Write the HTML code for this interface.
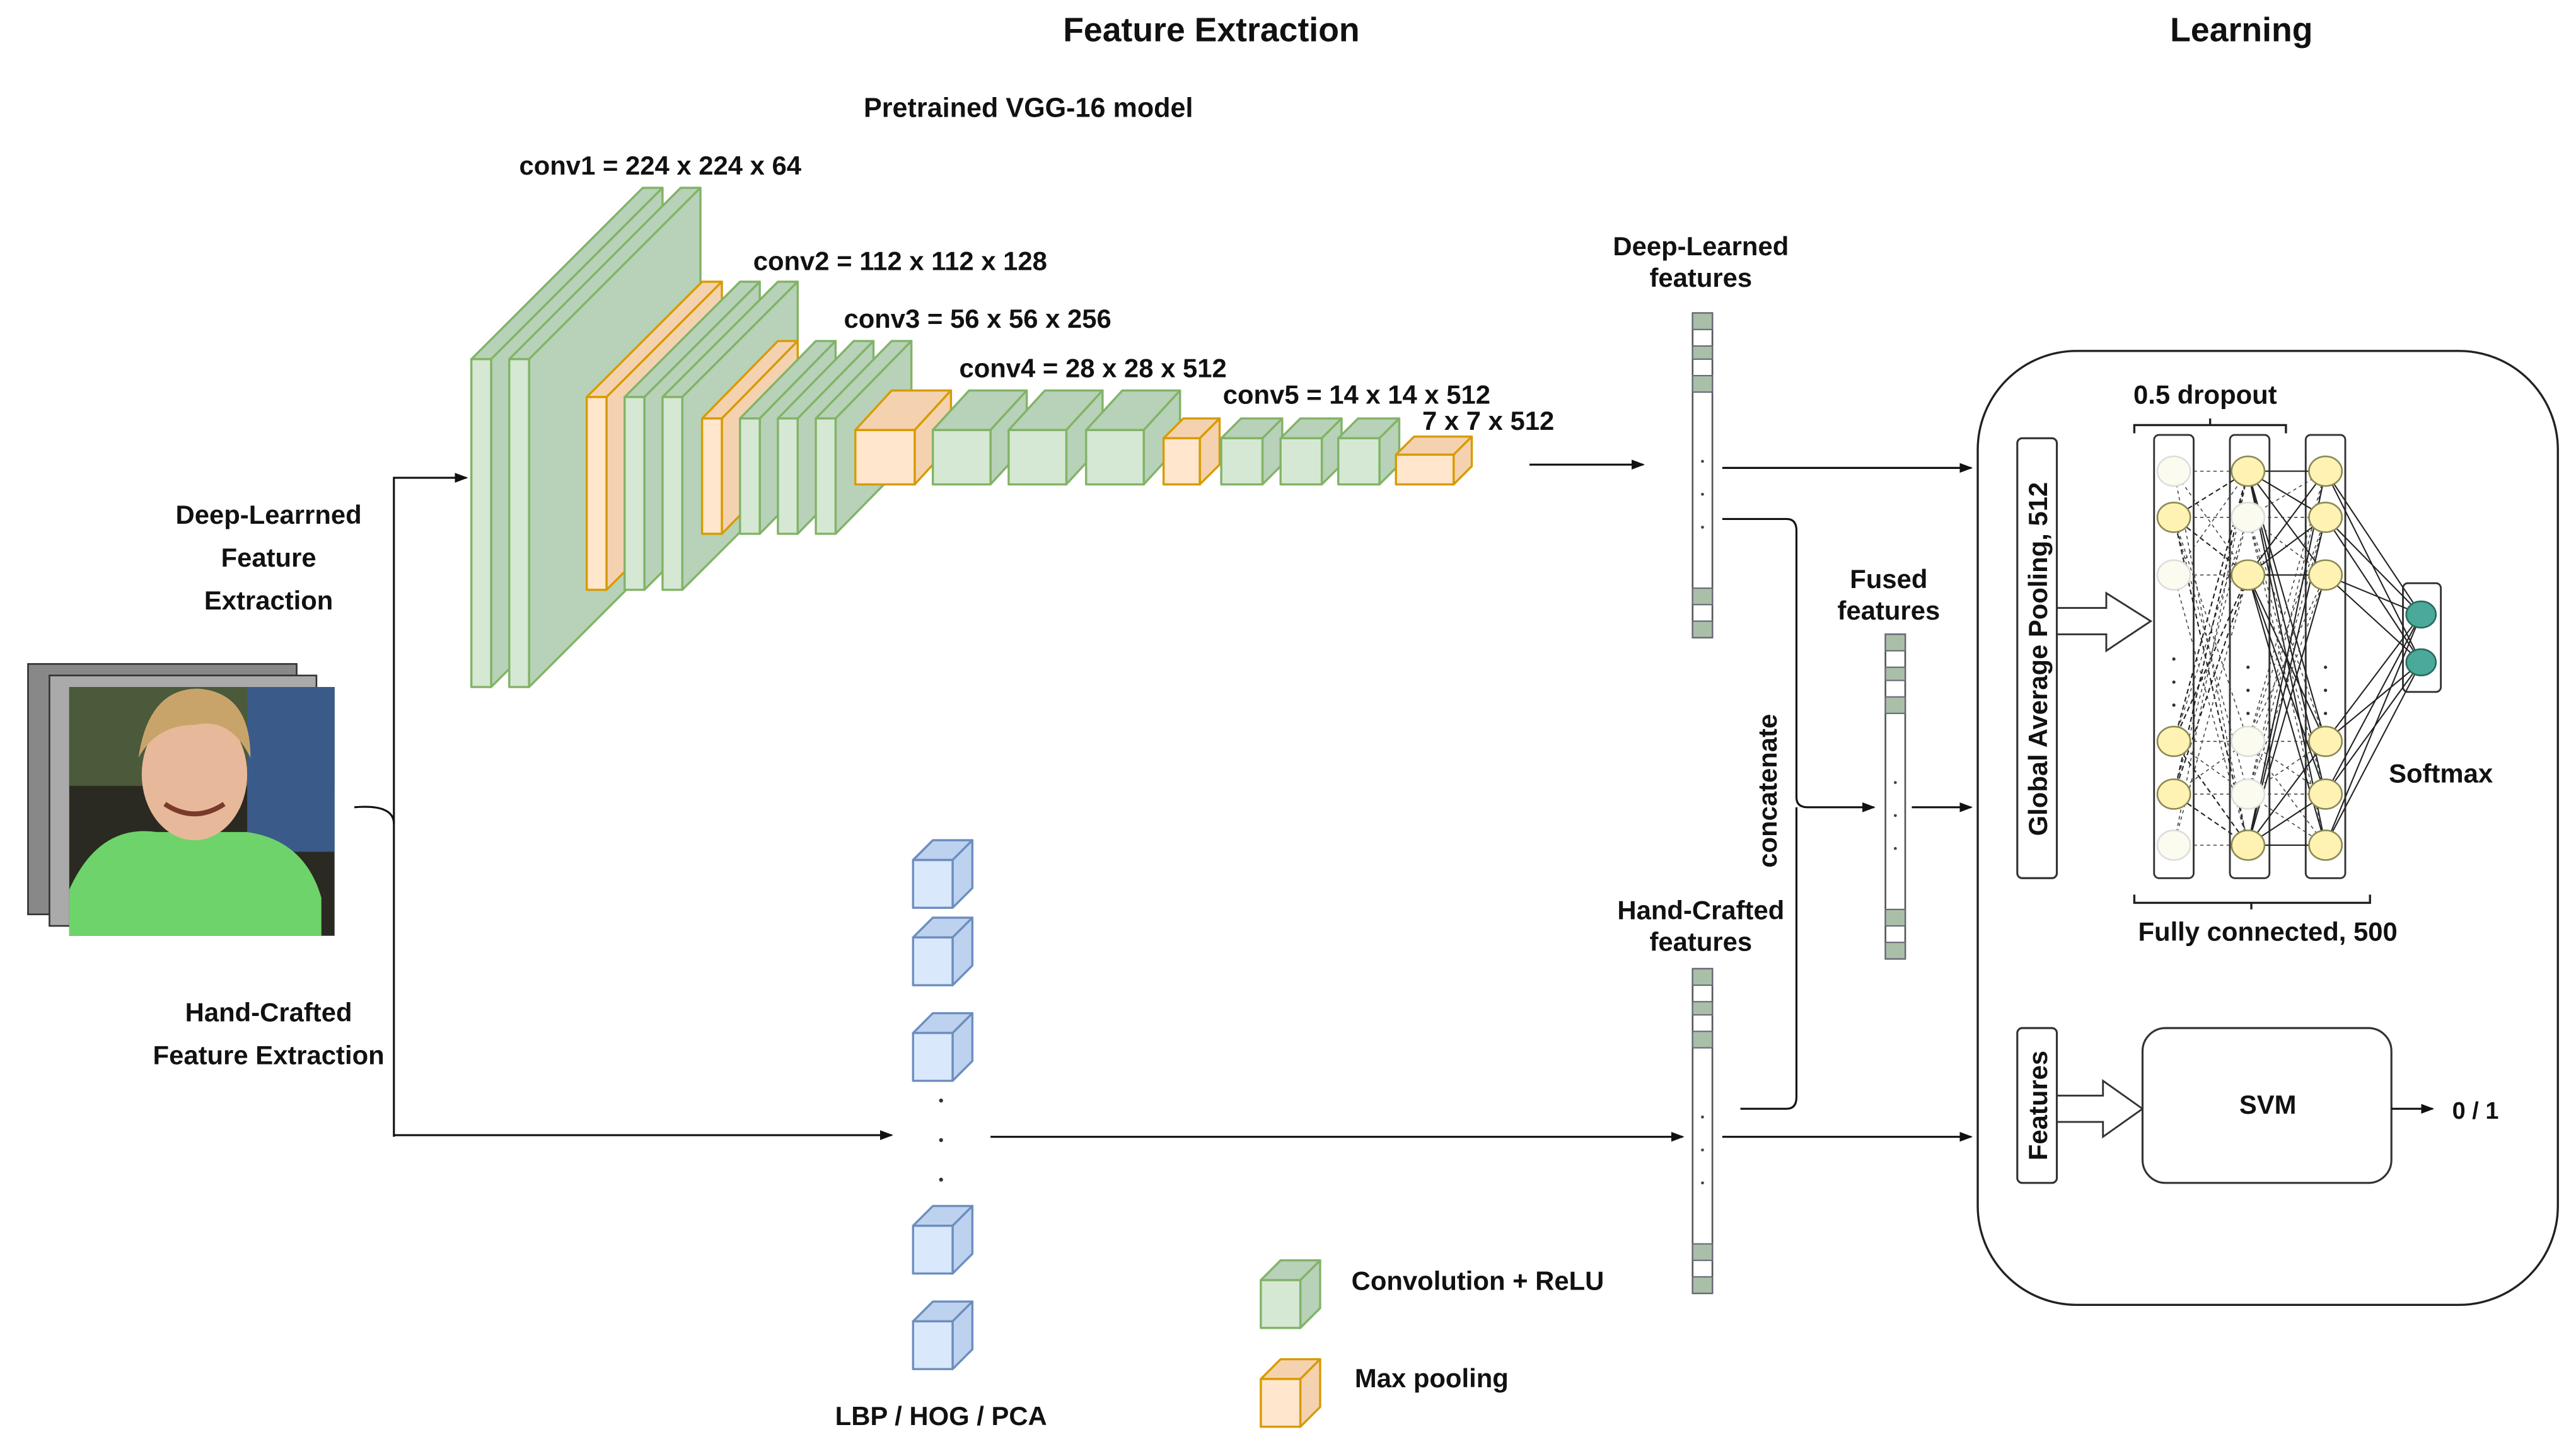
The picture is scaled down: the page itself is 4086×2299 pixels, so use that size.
<!DOCTYPE html>
<html><head><meta charset="utf-8"><style>
html,body{margin:0;padding:0;background:#fff;}
svg{display:block;}
text{font-family:"Liberation Sans",Arial,sans-serif;font-weight:bold;fill:#111;}
</style></head><body>
<svg width="4086" height="2299" viewBox="0 0 1563 879.5" preserveAspectRatio="none" xmlns="http://www.w3.org/2000/svg">
<defs>
<marker id="ar" markerWidth="8" markerHeight="8" refX="7" refY="4" orient="auto" markerUnits="userSpaceOnUse"><path d="M0,1 L8,4 L0,7 Z" fill="#111"/></marker>
</defs>
<rect width="1563" height="880" fill="#fff"/>

<text x="735" y="25" font-size="20.5" text-anchor="middle">Feature Extraction</text>
<text x="1360" y="25" font-size="20.5" text-anchor="middle">Learning</text>
<text x="624" y="71" font-size="16.5" text-anchor="middle">Pretrained VGG-16 model</text>

<g font-size="16">
<text x="315" y="106">conv1 = 224 x 224 x 64</text>
<text x="457" y="164">conv2 = 112 x 112 x 128</text>
<text x="512" y="199">conv3 = 56 x 56 x 256</text>
<text x="582" y="229">conv4 = 28 x 28 x 512</text>
<text x="742" y="245">conv5 = 14 x 14 x 512</text>
<text x="863" y="261">7 x 7 x 512</text>
</g>

<g id="boxes" stroke-width="1.3" stroke-linejoin="round"></g>

<!-- image stack -->
<rect x="17" y="403" width="163" height="152" fill="#888" stroke="#333"/>
<rect x="30" y="410" width="162" height="152" fill="#aaa" stroke="#333"/>
<rect x="42" y="417" width="161" height="151" fill="#2a2a22"/>
<rect x="42" y="417" width="161" height="60" fill="#4a5a3a"/>
<rect x="150" y="417" width="53" height="100" fill="#3a5a8a"/>
<path d="M42,540 Q60,500 95,505 L150,505 Q185,510 195,545 L195,568 L42,568 Z" fill="#6ed36a"/>
<ellipse cx="118" cy="470" rx="32" ry="40" fill="#e8b89a"/>
<path d="M84,460 Q90,418 120,418 Q152,420 152,460 Q140,435 118,440 Q95,440 84,460 Z" fill="#c9a46a"/>
<path d="M100,488 Q118,500 136,488" stroke="#7a3a2a" stroke-width="3" fill="none"/>

<g font-size="16" text-anchor="middle">
<text x="163" y="318">Deep-Learrned</text>
<text x="163" y="344">Feature</text>
<text x="163" y="370">Extraction</text>
<text x="163" y="620">Hand-Crafted</text>
<text x="163" y="646">Feature Extraction</text>
</g>

<g stroke="#111" stroke-width="1.2" fill="none">
<path d="M215,490 Q239,488 239,500"/>
<path d="M239,690 L239,290 L283,290" marker-end="url(#ar)"/>
<path d="M239,689 L541,689" marker-end="url(#ar)"/>
<path d="M928,282 L997,282" marker-end="url(#ar)"/>
<path d="M601,690 L1021,690" marker-end="url(#ar)"/>
<path d="M1045,284 L1196,284" marker-end="url(#ar)"/>
<path d="M1045,315 L1084,315 Q1090,315 1090,322 L1090,484 Q1090,490 1097,490 L1137,490" marker-end="url(#ar)"/>
<path d="M1056,673 L1084,673 Q1090,673 1090,666 L1090,490"/>
<path d="M1160,490 L1196,490" marker-end="url(#ar)"/>
<path d="M1045,690 L1196,690" marker-end="url(#ar)"/>
</g>
<text transform="translate(1078,480) rotate(-90)" font-size="16" text-anchor="middle">concatenate</text>

<g font-size="16" text-anchor="middle">
<text x="1032" y="155">Deep-Learned</text>
<text x="1032" y="174">features</text>
<text x="1032" y="558">Hand-Crafted</text>
<text x="1032" y="577">features</text>
<text x="1146" y="357">Fused</text>
<text x="1146" y="376">features</text>
</g>

<g id="bars"></g>
<g id="cubes" stroke-width="1.3" stroke-linejoin="round"></g>
<g fill="#333"><circle cx="571" cy="668" r="1.2"/><circle cx="571" cy="692" r="1.2"/><circle cx="571" cy="716" r="1.2"/></g>
<text x="571" y="865" font-size="16" text-anchor="middle">LBP / HOG / PCA</text>
<text x="820" y="783" font-size="16">Convolution + ReLU</text>
<text x="822" y="842" font-size="16">Max pooling</text>

<!-- Learning -->
<rect x="1200" y="213" width="352" height="579" rx="60" fill="none" stroke="#222" stroke-width="1.3"/>
<rect x="1224" y="266" width="24" height="267" rx="3" fill="#fff" stroke="#333" stroke-width="1.2"/>
<text transform="translate(1242,400) rotate(-90)" font-size="16" text-anchor="middle">Global Average Pooling, 512</text>
<path d="M1248,369 L1278,369 L1278,360 L1305,377 L1278,395 L1278,385 L1248,385 Z" fill="#fff" stroke="#333" stroke-width="1.1"/>
<g fill="#fff" stroke="#333" stroke-width="1.1">
<rect x="1307" y="264" width="24" height="269" rx="3"/>
<rect x="1353" y="264" width="24" height="269" rx="3"/>
<rect x="1399" y="264" width="24" height="269" rx="3"/>
<rect x="1458" y="354" width="23" height="66" rx="3"/>
</g>
<g id="net"></g>
<g fill="#333"><circle cx="1319" cy="400" r="1"/><circle cx="1319" cy="414" r="1"/><circle cx="1319" cy="428" r="1"/>
<circle cx="1364" cy="405" r="1"/><circle cx="1364" cy="419" r="1"/><circle cx="1364" cy="433" r="1"/>
<circle cx="1411" cy="405" r="1"/><circle cx="1411" cy="419" r="1"/><circle cx="1411" cy="433" r="1"/></g>
<path d="M1295,263 L1295,258 L1387,258 L1387,263 M1341,258 L1341,254" stroke="#222" stroke-width="1.3" fill="none"/>
<text x="1338" y="245" font-size="16" text-anchor="middle">0.5 dropout</text>
<path d="M1295,543 L1295,548 L1438,548 L1438,543 M1366,548 L1366,552" stroke="#222" stroke-width="1.3" fill="none"/>
<text x="1376" y="571" font-size="16" text-anchor="middle">Fully connected, 500</text>
<text x="1481" y="475" font-size="16" text-anchor="middle">Softmax</text>

<rect x="1224" y="624" width="24" height="94" rx="3" fill="#fff" stroke="#333" stroke-width="1.2"/>
<text transform="translate(1242,671) rotate(-90)" font-size="16" text-anchor="middle">Features</text>
<path d="M1248,665 L1276,665 L1276,656 L1300,673 L1276,690 L1276,681 L1248,681 Z" fill="#fff" stroke="#333" stroke-width="1.1"/>
<rect x="1300" y="624" width="151" height="94" rx="14" fill="#fff" stroke="#333" stroke-width="1.2"/>
<text x="1376" y="676" font-size="16" text-anchor="middle">SVM</text>
<path d="M1451,673 L1476,673" stroke="#111" stroke-width="1.2" marker-end="url(#ar)"/>
<text x="1502" y="679" font-size="14.5" text-anchor="middle">0 / 1</text>
</svg>
<script>
var NS="http://www.w3.org/2000/svg";
function el(p,t,a){var e=document.createElementNS(NS,t);for(var k in a)e.setAttribute(k,a[k]);p.appendChild(e);return e;}
var G={f:"#d5e8d4",s:"#82b366",d:"#b7d2b8"},O={f:"#ffe6cc",s:"#d79b00",d:"#f4d2b0"},B={f:"#dae8fc",s:"#6c8ebf",d:"#bcd2ee"};
function box(g,c,x,y,w,h,dx,dy){
 el(g,"polygon",{points:[x,y,x+dx,y-dy,x+w+dx,y-dy,x+w,y].join(","),fill:c.d,stroke:c.s});
 el(g,"polygon",{points:[x+w,y,x+w+dx,y-dy,x+w+dx,y+h-dy,x+w,y+h].join(","),fill:c.d,stroke:c.s});
 el(g,"rect",{x:x,y:y,width:w,height:h,fill:c.f,stroke:c.s});
}
var bx=document.getElementById("boxes");
var L=[[G,286,218,12,199,104,104],[G,309,218,12,199,104,104],
[O,356,241,12,117,70,70],[G,379,241,12,117,70,70],[G,402,241,12,117,70,70],
[O,426,254,12,70,46,47],[G,449,254,12,70,46,47],[G,472,254,12,70,46,47],[G,495,254,12,70,46,47],
[O,519,261,36,33,22,24],[G,566,261,35,33,22,24],[G,612,261,35,33,22,24],[G,659,261,35,33,22,24],
[O,706,266,22,28,12,12],[G,741,266,25,28,12,12],[G,777,266,25,28,12,12],[G,812,266,25,28,12,12],
[O,847,276,35,18,11,11]];
L.forEach(function(a){box(bx,a[0],a[1],a[2],a[3],a[4],a[5],a[6]);});
var cb=document.getElementById("cubes");
[510,557,615,732,790].forEach(function(t){box(cb,B,554,t+12,24,29,12,12);});
box(cb,G,765,777,24,29,12,12);box(cb,O,765,837,24,29,12,12);
var bars=document.getElementById("bars");
function bar(x,y){
 el(bars,"rect",{x:x,y:y,width:12,height:197,fill:"#fff",stroke:"#555","stroke-width":1});
 [[0,10],[20,8],[38,10],[167,10],[187,10]].forEach(function(s){el(bars,"rect",{x:x,y:y+s[0],width:12,height:s[1],fill:"#a9bfa8",stroke:"#667","stroke-width":0.8});});
 [90,110,130].forEach(function(d){el(bars,"circle",{cx:x+6,cy:y+d,r:0.9,fill:"#444"});});
}
bar(1027,190);bar(1027,588);bar(1144,385);
var net=document.getElementById("net");
var ys=[286,314,349,450,482,513];
var c1=[0,1,0,1,1,0],c2=[1,0,1,0,0,1];
for(var i=0;i<6;i++)for(var j=0;j<6;j++){
 if(c1[i]&&c2[j]) el(net,"line",{x1:1319,y1:ys[i],x2:1364,y2:ys[j],stroke:"#222","stroke-width":0.8,"stroke-dasharray":"3,2"});
 else if(c1[i]||c2[j]) el(net,"line",{x1:1319,y1:ys[i],x2:1364,y2:ys[j],stroke:"#444","stroke-width":0.6,"stroke-dasharray":"2,2"});
 if(c2[i]) el(net,"line",{x1:1364,y1:ys[i],x2:1411,y2:ys[j],stroke:"#222","stroke-width":0.8});
 else el(net,"line",{x1:1364,y1:ys[i],x2:1411,y2:ys[j],stroke:"#444","stroke-width":0.6,"stroke-dasharray":"2,2"});
}
for(var i=0;i<6;i++){[373,402].forEach(function(o){el(net,"line",{x1:1411,y1:ys[i],x2:1469,y2:o,stroke:"#222","stroke-width":0.8});});}
for(var i=0;i<6;i++){
 el(net,"ellipse",{cx:1319,cy:ys[i],rx:10,ry:9,fill:c1[i]?"#fff2b3":"#fbfbef",stroke:c1[i]?"#8a8a55":"#ddd","stroke-width":1});
 el(net,"ellipse",{cx:1364,cy:ys[i],rx:10,ry:9,fill:c2[i]?"#fff2b3":"#fbfbef",stroke:c2[i]?"#8a8a55":"#ddd","stroke-width":1});
 el(net,"ellipse",{cx:1411,cy:ys[i],rx:10,ry:9,fill:"#fff2b3",stroke:"#8a8a55","stroke-width":1});
}
[373,402].forEach(function(o){el(net,"ellipse",{cx:1469,cy:o,rx:9,ry:8,fill:"#4aa99a",stroke:"#2a6a60","stroke-width":1});});
</script>
</body></html>
